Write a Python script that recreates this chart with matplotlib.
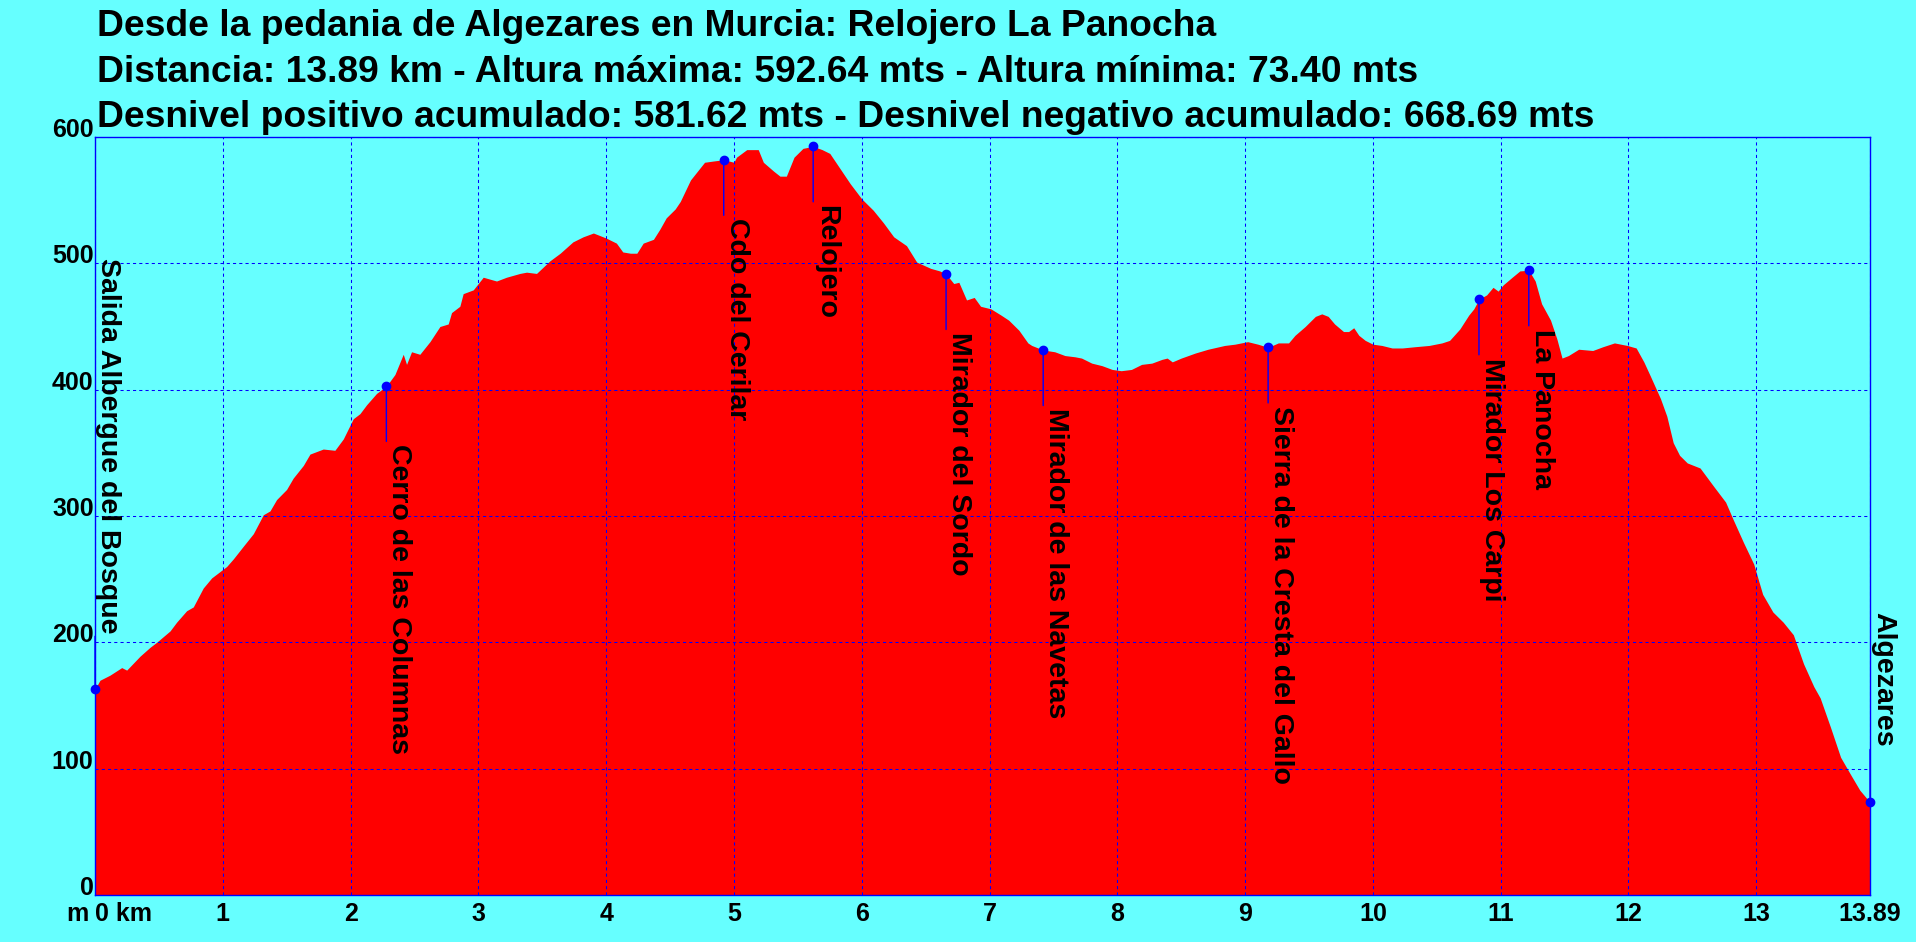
import matplotlib
matplotlib.use("Agg")
import matplotlib.pyplot as plt

plt.rcParams['font.family'] = ['Liberation Sans', 'DejaVu Sans']
plt.rcParams['font.weight'] = 'bold'

# ---- data ----
distance_km = [
    0.000, 0.039, 0.117, 0.209, 0.248, 0.352, 0.430, 0.482, 0.587, 0.639,
    0.717, 0.769, 0.847, 0.913, 0.978, 1.030, 1.082, 1.160, 1.239, 1.317,
    1.369, 1.421, 1.499, 1.551, 1.630, 1.682, 1.786, 1.877, 1.943, 2.021,
    2.073, 2.125, 2.203, 2.282, 2.347, 2.412, 2.438, 2.477, 2.542, 2.621,
    2.699, 2.764, 2.790, 2.855, 2.881, 2.960, 3.038, 3.142, 3.220, 3.325,
    3.377, 3.455,
    3.56, 3.64, 3.74, 3.82, 3.90, 3.95, 4.00, 4.08, 4.13, 4.19, 4.24, 4.29,
    4.37, 4.42, 4.47, 4.54, 4.58, 4.66, 4.77, 4.84, 4.92, 5.00, 5.02, 5.10,
    5.19, 5.23, 5.31, 5.36, 5.41, 5.47, 5.54, 5.62, 5.69, 5.75, 5.83, 5.91,
    6.00, 6.09, 6.17, 6.25, 6.35, 6.43, 6.54, 6.61, 6.66, 6.72, 6.76, 6.82,
    6.88, 6.93, 7.01, 7.09,
    7.15, 7.23, 7.30, 7.33, 7.42, 7.51, 7.59, 7.67, 7.72, 7.80, 7.88, 7.96,
    8.03, 8.11, 8.19, 8.27, 8.35, 8.39, 8.43, 8.50, 8.61, 8.71, 8.84, 8.92,
    9.02, 9.10, 9.18, 9.26, 9.34, 9.39, 9.47, 9.55, 9.60, 9.65, 9.70, 9.77,
    9.81, 9.85, 9.89, 9.94, 10.00, 10.07, 10.15, 10.23, 10.33, 10.44, 10.54,
    10.60, 10.68, 10.75, 10.79, 10.83, 10.89, 10.94, 10.98, 11.02, 11.09,
    11.15, 11.22, 11.27, 11.32, 11.39, 11.44, 11.48, 11.53, 11.61, 11.72,
    11.80, 11.89, 11.99, 12.06, 12.12, 12.17, 12.25, 12.30, 12.35, 12.40,
    12.46, 12.56, 12.67, 12.76, 12.82, 12.90, 12.98, 13.05, 13.13, 13.21,
    13.29, 13.37, 13.45, 13.50, 13.58, 13.66, 13.74, 13.81, 13.89,
]
elevation_m = [
    163, 170, 174, 180, 178, 189, 196, 200, 209, 216,
    225, 228, 243, 251, 256, 260, 266, 276, 286, 301,
    304, 313, 321, 330, 340, 349, 353, 352, 361, 377,
    381, 388, 397, 403, 412, 428, 420, 430, 428, 438,
    450, 452, 461, 466, 476, 479, 489, 486, 489, 492,
    493, 492,
    502, 508, 517, 521, 524, 522, 520, 516, 509, 508, 508, 516,
    519, 527, 536, 543, 549, 566, 580, 581, 582, 580, 584, 590,
    590, 580, 573, 569, 569, 584, 591, 592.64, 590, 587, 575, 563,
    551, 542, 532, 521, 514, 501, 496, 494, 491.6, 484, 485, 471,
    473, 466, 464, 459,
    455, 447, 437, 435, 431.4, 430, 427, 426, 425, 421, 419, 416,
    415, 416, 420, 421, 424, 425, 422, 425, 429, 432, 435, 436,
    438, 436, 433.5, 437, 437, 443, 450, 458, 460, 458, 452, 446,
    446, 449, 443, 439, 436, 435, 433, 433, 434, 435, 437,
    439, 448, 459, 464, 471.6, 475, 481, 478, 483, 489,
    494, 494.5, 486, 468, 455, 440, 425, 427, 432, 431,
    434, 437, 435, 433, 422, 411, 393, 379, 358, 348,
    342, 338, 323, 311, 297, 279, 262, 238, 224, 216,
    206, 183, 165, 156, 133, 109, 95, 83, 73.40,
]

waypoint_names = [
    "Salida Albergue del Bosque", "Cerro de las Columnas", "Cdo del Cerilar",
    "Relojero", "Mirador del Sordo", "Mirador de las Navetas",
    "Sierra de la Cresta del Gallo", "Mirador Los Carpi", "La Panocha",
    "Algezares",
]
waypoint_km = [0.0, 2.28, 4.92, 5.62, 6.66, 7.42, 9.18, 10.83, 11.22, 13.89]
waypoint_elev = [163, 403, 582, 592.64, 491.6, 431.4, 433.5, 471.6, 494.5, 73.40]

xtick_values = [0, 1, 2, 3, 4, 5, 6, 7, 8, 9, 10, 11, 12, 13, 13.89]
xtick_labels = ["0 km", "1", "2", "3", "4", "5", "6", "7", "8", "9", "10",
                "11", "12", "13", "13.89"]
ytick_values = [0, 100, 200, 300, 400, 500, 600]
ytick_labels = ["0", "100", "200", "300", "400", "500", "600"]

title_lines = [
    "Desde la pedania de Algezares en Murcia: Relojero La Panocha",
    "Distancia: 13.89 km - Altura máxima: 592.64 mts - Altura mínima: 73.40 mts",
    "Desnivel positivo acumulado: 581.62 mts - Desnivel negativo acumulado: 668.69 mts",
]

# ---- style ----
BG = '#66ffff'
FILL = '#ff0000'
BLUE = '#0000ff'
W, H = 1916, 942

fig = plt.figure(figsize=(W / 100, H / 100), dpi=100, facecolor=BG)
ax = fig.add_axes([95 / W, 1 - 895 / H, (1870 - 95) / W, (895 - 137) / H])
ax.set_facecolor(BG)

ax.fill_between(distance_km, elevation_m, 0, color=FILL, lw=0, zorder=1)

ax.set_xlim(0, 13.89)
ax.set_ylim(0, 600)
for s in ax.spines.values():
    s.set_color(BLUE)
    s.set_linewidth(1.0)
    s.set_zorder(4)

ax.set_xticks(xtick_values)
ax.set_xticklabels(xtick_labels)
ax.set_yticks(ytick_values)
ax.set_yticklabels(ytick_labels)
ax.tick_params(axis='both', length=0, labelsize=18, colors='black')
ax.tick_params(axis='x', pad=5)
ax.tick_params(axis='y', pad=1)
for lab in ax.get_yticklabels():
    lab.set_verticalalignment('baseline')
    lab.set_fontweight('bold')
for lab in ax.get_xticklabels():
    lab.set_fontweight('bold')
ax.get_xticklabels()[0].set_horizontalalignment('left')

ax.annotate("m", xy=(0, 0), xycoords=('data', 'axes fraction'),
            xytext=(-5, -5), textcoords='offset points',
            ha='right', va='top', fontsize=18, fontweight='bold')

ax.set_axisbelow(False)
ax.grid(True, color=BLUE, linewidth=0.75, linestyle=(0, (3, 3)), zorder=2)

# waypoints
for name, wx, wy in zip(waypoint_names, waypoint_km, waypoint_elev):
    if wy < 250:
        xytext, va, rel = (0, 40), 'bottom', (0, 0)
    else:
        xytext, va, rel = (0, -42), 'top', (0, 1)
    ax.annotate(name, xy=(wx, wy), xytext=xytext, textcoords='offset points',
                rotation=-90, ha='left', va=va, fontsize=20.5, fontweight='bold',
                color='black', zorder=5, annotation_clip=False,
                arrowprops=dict(arrowstyle='-', color=BLUE, lw=1.0,
                                shrinkA=0, shrinkB=0, relpos=rel))
ax.plot(waypoint_km, waypoint_elev, 'o', color=BLUE, ms=6, zorder=6,
        clip_on=False)

# titles
baselines = [36, 82, 127]
for line, yb in zip(title_lines, baselines):
    fig.text(97 / W, 1 - yb / H, line, ha='left', va='baseline',
             fontsize=26.8, fontweight='bold', color='black')

fig.savefig("out.png", dpi=100, facecolor=BG)
